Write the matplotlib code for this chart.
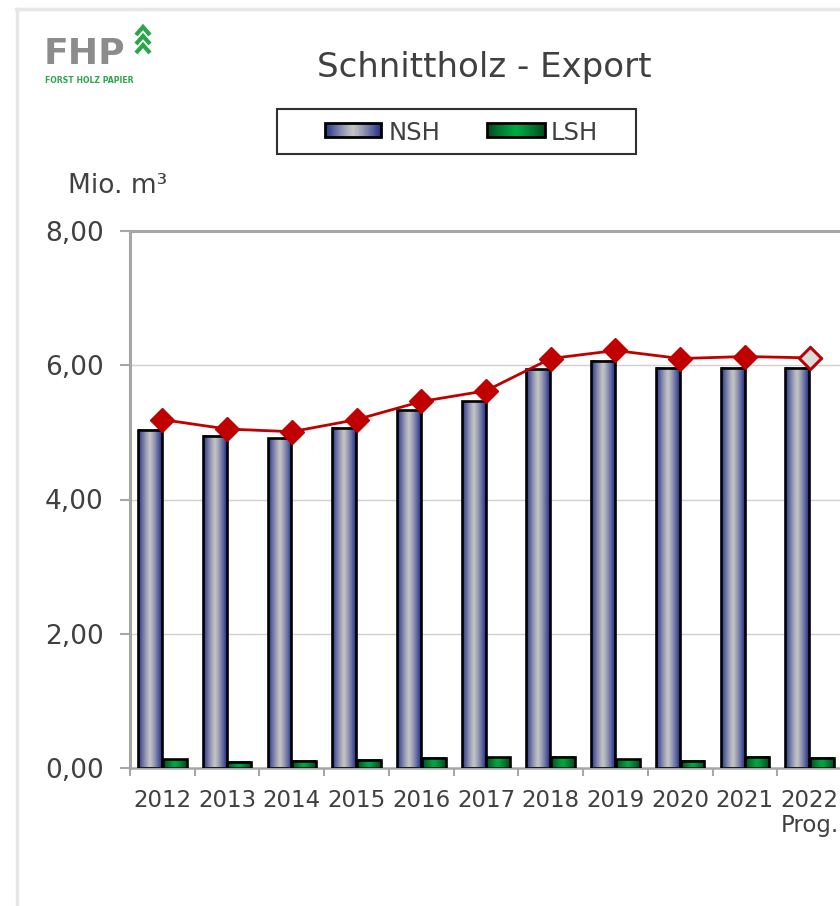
import numpy as np
import matplotlib
matplotlib.use("Agg")
from matplotlib import pyplot as plt
from matplotlib.patches import Rectangle

plt.rcParams['font.family'] = ['DejaVu Sans']

years = ['2012', '2013', '2014', '2015', '2016', '2017', '2018', '2019', '2020', '2021', '2022\nProg.']
nsh = [5.04, 4.95, 4.91, 5.07, 5.33, 5.46, 5.94, 6.07, 5.96, 5.96, 5.96]
lsh = [0.13, 0.09, 0.11, 0.12, 0.15, 0.16, 0.17, 0.13, 0.11, 0.17, 0.15]
total = [5.19, 5.05, 5.01, 5.19, 5.46, 5.62, 6.10, 6.22, 6.10, 6.13, 6.11]
yticks = [0, 2, 4, 6, 8]

txt = '#404040'
axgray = '#a6a6a6'
red = '#c00000'


def gradient(edge, mid, n=64, p=1.2):
    t = np.linspace(0, 1, n)
    w = np.abs(2 * t - 1) ** p
    edge = np.array(matplotlib.colors.to_rgb(edge))
    mid = np.array(matplotlib.colors.to_rgb(mid))
    return (mid[None, :] * (1 - w[:, None]) + edge[None, :] * w[:, None])[None, :, :]


grad_nsh = gradient('#233088', '#c4c4c4')
grad_lsh = gradient('#004a1c', '#00a844')

fig = plt.figure(figsize=(8.4, 9.06), dpi=100)
ax = fig.add_axes([130 / 840, 1 - 768 / 906, 712 / 840, 537 / 906])

x = np.arange(len(years))
w = 0.37
bars1 = ax.bar(x - 0.19, nsh, w, facecolor='none', edgecolor='black', linewidth=1.9, zorder=3)
bars2 = ax.bar(x + 0.19, lsh, w, facecolor='none', edgecolor='black', linewidth=1.9, zorder=3)
for bars, g in [(bars1, grad_nsh), (bars2, grad_lsh)]:
    for b in bars:
        x0 = b.get_x()
        ax.imshow(g, extent=[x0, x0 + b.get_width(), 0, b.get_height()], aspect='auto',
                  interpolation='bilinear', zorder=2)

ax.plot(x, total, color=red, linewidth=2, marker='D', markersize=12.5,
        markerfacecolor=red, markeredgecolor=red, zorder=4)
ax.plot(x[-1:], total[-1:], linestyle='none', marker='D', markersize=11.5,
        markerfacecolor='#dcdcdc', markeredgecolor=red, markeredgewidth=2, zorder=5)

ax.set_xlim(-0.5, len(years) - 0.5)
ax.set_ylim(0, 8)
ax.set_yticks(yticks)
ax.set_yticklabels(['%d,00' % v for v in yticks], fontsize=19, color=txt)
ax.set_xticks(x)
ax.set_xticklabels(years, fontsize=16.5, color=txt, linespacing=1.1)
ax.set_xticks(np.arange(-0.5, len(years), 1), minor=True)
ax.tick_params(axis='x', which='major', length=0, pad=15)
ax.tick_params(axis='x', which='minor', length=6, width=1.5, color=axgray)
ax.tick_params(axis='y', length=7, width=1.5, color=axgray, pad=12)

for v in [2, 4, 6]:
    ax.axhline(v, color='#d0d0d0', linewidth=1.0, zorder=1)
ax.spines['right'].set_visible(False)
ax.spines['left'].set_color(axgray)
ax.spines['left'].set_linewidth(2.2)
ax.spines['top'].set_color(axgray)
ax.spines['top'].set_linewidth(2.2)
ax.spines['bottom'].set_color(axgray)
ax.spines['bottom'].set_linewidth(1.8)

# overlay in pixel coordinates for title, legend, logo and frame
ov = fig.add_axes([0, 0, 1, 1], zorder=10)
ov.set_xlim(0, 840)
ov.set_ylim(906, 0)
ov.axis('off')
ov.patch.set_visible(False)

ov.plot([16.5, 16.5], [9, 906], color='#e6e6e6', linewidth=2.5)
ov.plot([16, 840], [9, 9], color='#e6e6e6', linewidth=2.5)

ov.text(484, 77, 'Schnittholz - Export', fontsize=24.5, color=txt, ha='center', va='baseline')
ov.text(68, 193, 'Mio. m³', fontsize=19, color=txt, ha='left', va='baseline')

# legend
ov.add_patch(Rectangle((277, 109), 359, 45, facecolor='white', edgecolor='#303030', linewidth=1.5))
for (x0, x1), g in [((325, 381), grad_nsh), ((487, 545), grad_lsh)]:
    ov.imshow(g, extent=[x0, x1, 137, 123], aspect='auto', interpolation='bilinear', zorder=3)
    ov.add_patch(Rectangle((x0, 123), x1 - x0, 14, facecolor='none', edgecolor='black',
                           linewidth=2, zorder=4))
ov.text(389, 140, 'NSH', fontsize=17.5, color=txt, ha='left', va='baseline')
ov.text(551, 140, 'LSH', fontsize=17.5, color=txt, ha='left', va='baseline')

# logo
ov.text(44, 64, 'FHP', fontsize=26, fontweight='bold', color='#8c8c8c', ha='left', va='baseline')
ov.text(45, 83, 'FORST HOLZ PAPIER', fontsize=5.6, fontweight='bold', color='#2aa64a',
        ha='left', va='baseline')
for tip in [27, 36, 45]:
    ov.plot([136, 143, 150], [tip + 8, tip, tip + 8], color='#2aa64a', linewidth=3,
            solid_capstyle='butt', solid_joinstyle='miter')
ov.set_xlim(0, 840)
ov.set_ylim(906, 0)

fig.savefig('out.png', dpi=100, facecolor='white')
